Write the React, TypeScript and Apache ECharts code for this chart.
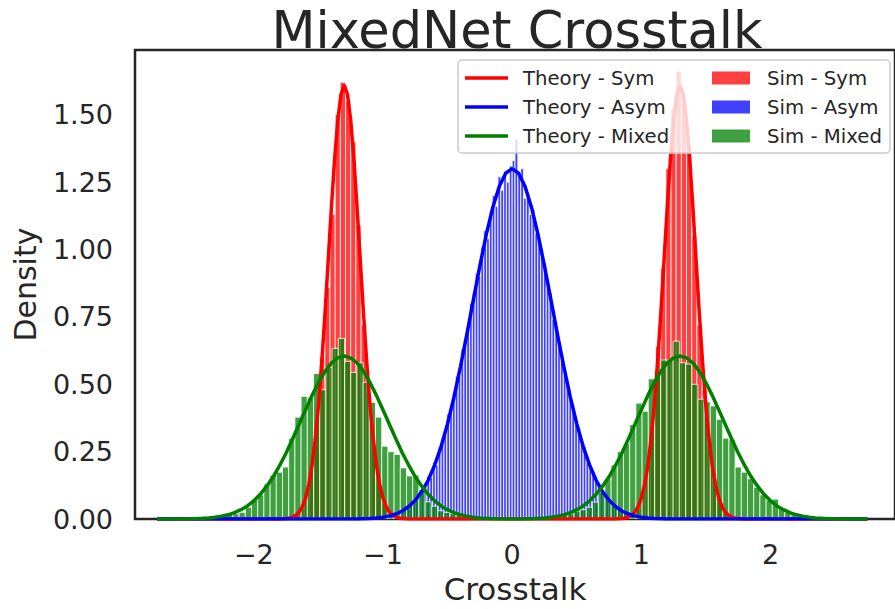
import React, { useEffect, useRef } from "react";
import * as echarts from "echarts";

// ---------- text ----------
const TITLE = "MixedNet Crosstalk";
const X_LABEL = "Crosstalk";
const Y_LABEL = "Density";
const THEORY_NAMES = ["Theory - Sym", "Theory - Asym", "Theory - Mixed"];
const SIM_NAMES = ["Sim - Sym", "Sim - Asym", "Sim - Mixed"];

// ---------- axes ----------
const X_MIN = -2.92;
const X_MAX = 2.964;
const Y_MIN = 0;
const Y_MAX = 1.74;
const Y_INTERVAL = 0.25;

// ---------- histograms (density per bin) ----------
const SIM_SYM_START = -1.77;
const SIM_SYM_WIDTH = 0.04;
const SIM_SYM = [
  0.002, 0.006, 0.02, 0.04, 0.1, 0.2, 0.37, 0.6, 0.86, 1.13,
  1.5, 1.62, 1.55, 1.4, 1.09, 0.72, 0.47, 0.29, 0.14, 0.06,
  0.025, 0.01, 0.004, 0.001,
  0, 0, 0, 0, 0, 0, 0, 0, 0, 0,
  0, 0, 0, 0, 0, 0, 0, 0, 0, 0,
  0, 0, 0, 0, 0, 0, 0, 0, 0, 0,
  0, 0, 0, 0, 0, 0, 0, 0, 0, 0,
  0,
  0.001, 0.006, 0.016, 0.04, 0.1, 0.2, 0.37, 0.64, 0.93, 1.3,
  1.52, 1.66, 1.55, 1.38, 1.05, 0.72, 0.48, 0.28, 0.14, 0.065,
  0.026, 0.01, 0.003, 0.001,
];

const SIM_ASYM_START = -1.1;
const SIM_ASYM_WIDTH = 0.022;
const SIM_ASYM = [
  0.003, 0.0, 0.005, 0.004, 0.009, 0.007, 0.013, 0.011, 0.02, 0.018,
  0.029, 0.027, 0.042, 0.04, 0.06, 0.07, 0.074, 0.1, 0.115, 0.12,
  0.16, 0.155, 0.21, 0.2, 0.27, 0.3, 0.31, 0.39, 0.42, 0.47,
  0.53, 0.53, 0.63, 0.67, 0.7, 0.8, 0.84, 0.91, 0.9, 1.01,
  1.07, 1.04, 1.14, 1.2, 1.16, 1.27, 1.22, 1.29, 1.25, 1.31,
  1.33, 1.41, 1.28, 1.3, 1.19, 1.21, 1.13, 1.15, 1.06, 1.03,
  0.97, 0.95, 0.86, 0.84, 0.74, 0.73, 0.64, 0.61, 0.54, 0.5,
  0.45, 0.42, 0.35, 0.34, 0.28, 0.27, 0.21, 0.2, 0.17, 0.14,
  0.12, 0.11, 0.085, 0.08, 0.06, 0.058, 0.043, 0.04, 0.028, 0.027,
  0.019, 0.018, 0.012, 0.012, 0.008, 0.007, 0.004, 0.005, 0.002, 0.003,
];

const SIM_MIXED_START = -2.69;
const SIM_MIXED_WIDTH = 0.048;
const SIM_MIXED = [
  0.004, 0.005, 0.003, 0.004, 0.006, 0.005, 0.008, 0.007, 0.01, 0.013,
  0.018, 0.02, 0.025, 0.044, 0.074, 0.09, 0.13, 0.163, 0.174, 0.193,
  0.3, 0.378, 0.455, 0.45, 0.54, 0.48, 0.563, 0.633, 0.67, 0.585,
  0.544, 0.58, 0.507, 0.433, 0.378, 0.27, 0.25, 0.24, 0.19, 0.16,
  0.163, 0.11, 0.064, 0.048, 0.031, 0.025, 0.02, 0.015, 0.01, 0.008,
  0.005, 0.004, 0.002, 0.002, 0.001, 0.001, 0.001, 0.001, 0.001, 0.002,
  0.003, 0.004, 0.007, 0.01, 0.015, 0.02, 0.03, 0.035, 0.044, 0.063,
  0.1, 0.15, 0.2, 0.25, 0.28, 0.35, 0.43, 0.4, 0.52, 0.55,
  0.59, 0.59, 0.66, 0.58, 0.575, 0.5, 0.445, 0.435, 0.42, 0.37,
  0.3, 0.296, 0.193, 0.174, 0.15, 0.118, 0.09, 0.07, 0.074, 0.04,
  0.025, 0.015, 0.01, 0.008, 0.006, 0.005, 0.006, 0.004, 0.003, 0.004,
  0.002, 0.003, 0.002,
];

// ---------- theory curves ----------
const THEORY_SYM_X = [
  -2.75, -1.8,
  -1.75, -1.725, -1.7, -1.675, -1.65, -1.625, -1.6, -1.575, -1.55, -1.525,
  -1.5, -1.475, -1.45, -1.425, -1.4, -1.375, -1.35, -1.325, -1.3, -1.275,
  -1.25, -1.225, -1.2, -1.175, -1.15, -1.125, -1.1, -1.075, -1.05, -1.025,
  -1.0, -0.975, -0.95, -0.925, -0.9, -0.875, -0.85,
  -0.8, 0.8,
  0.85, 0.875, 0.9, 0.925, 0.95, 0.975, 1.0, 1.025, 1.05, 1.075,
  1.1, 1.125, 1.15, 1.175, 1.2, 1.225, 1.25, 1.275, 1.3, 1.325,
  1.35, 1.375, 1.4, 1.425, 1.45, 1.475, 1.5, 1.525, 1.55, 1.575,
  1.6, 1.625, 1.65, 1.675, 1.7, 1.725, 1.75,
  1.8, 2.75,
];
const THEORY_SYM_Y = [
  0, 0,
  0.0018, 0.0037, 0.0075, 0.014, 0.026, 0.046, 0.078, 0.127, 0.197, 0.294,
  0.42, 0.576, 0.756, 0.952, 1.151, 1.333, 1.48, 1.576, 1.61, 1.576,
  1.48, 1.333, 1.151, 0.952, 0.756, 0.576, 0.42, 0.294, 0.197, 0.127,
  0.078, 0.046, 0.026, 0.014, 0.0075, 0.0037, 0.0018,
  0, 0,
  0.0018, 0.0037, 0.0075, 0.014, 0.026, 0.046, 0.078, 0.127, 0.197, 0.294,
  0.42, 0.576, 0.756, 0.952, 1.151, 1.333, 1.48, 1.576, 1.61, 1.576,
  1.48, 1.333, 1.151, 0.952, 0.756, 0.576, 0.42, 0.294, 0.197, 0.127,
  0.078, 0.046, 0.026, 0.014, 0.0075, 0.0037, 0.0018,
  0, 0,
];

const THEORY_ASYM_X = [
  -2.75, -1.4, -1.2,
  -1.1, -1.05, -1.0, -0.95, -0.9, -0.85, -0.8, -0.75, -0.7, -0.65,
  -0.6, -0.55, -0.5, -0.45, -0.4, -0.35, -0.3, -0.25, -0.2, -0.15,
  -0.1, -0.05, 0.0, 0.05, 0.1, 0.15, 0.2, 0.25, 0.3, 0.35,
  0.4, 0.45, 0.5, 0.55, 0.6, 0.65, 0.7, 0.75, 0.8, 0.85,
  0.9, 0.95, 1.0, 1.05, 1.1,
  1.2, 1.4, 2.75,
];
const THEORY_ASYM_Y = [
  0, 0, 0.0007,
  0.0024, 0.004, 0.007, 0.012, 0.019, 0.03, 0.047, 0.07, 0.102, 0.144,
  0.2, 0.269, 0.354, 0.453, 0.566, 0.687, 0.814, 0.939, 1.056, 1.156,
  1.234, 1.283, 1.3, 1.283, 1.234, 1.156, 1.056, 0.939, 0.814, 0.687,
  0.566, 0.453, 0.354, 0.269, 0.2, 0.144, 0.102, 0.07, 0.047, 0.03,
  0.019, 0.012, 0.007, 0.004, 0.0024,
  0.0007, 0, 0,
];

const THEORY_MIXED_X = [
  -2.75, -2.7, -2.65, -2.6, -2.55, -2.5, -2.45, -2.4, -2.35,
  -2.3, -2.25, -2.2, -2.15, -2.1, -2.05, -2.0, -1.95, -1.9, -1.85,
  -1.8, -1.75, -1.7, -1.65, -1.6, -1.55, -1.5, -1.45, -1.4, -1.35,
  -1.3, -1.25, -1.2, -1.15, -1.1, -1.05, -1.0, -0.95, -0.9, -0.85,
  -0.8, -0.75, -0.7, -0.65, -0.6, -0.55, -0.5, -0.45, -0.4, -0.35,
  -0.3, -0.25, -0.2, -0.15, -0.1, -0.05, 0.0, 0.05, 0.1, 0.15,
  0.2, 0.25, 0.3, 0.35, 0.4, 0.45, 0.5, 0.55, 0.6, 0.65,
  0.7, 0.75, 0.8, 0.85, 0.9, 0.95, 1.0, 1.05, 1.1, 1.15,
  1.2, 1.25, 1.3, 1.35, 1.4, 1.45, 1.5, 1.55, 1.6, 1.65,
  1.7, 1.75, 1.8, 1.85, 1.9, 1.95, 2.0, 2.05, 2.1, 2.15,
  2.2, 2.25, 2.3, 2.35, 2.4, 2.45, 2.5, 2.55, 2.6, 2.65,
  2.7, 2.75,
];
const THEORY_MIXED_Y = [
  0.0001, 0.0001, 0.0002, 0.0003, 0.0006, 0.001, 0.0017, 0.0028, 0.0045,
  0.007, 0.011, 0.016, 0.024, 0.035, 0.049, 0.068, 0.092, 0.122, 0.157,
  0.199, 0.245, 0.297, 0.351, 0.405, 0.458, 0.506, 0.547, 0.579, 0.598,
  0.605, 0.598, 0.579, 0.547, 0.506, 0.458, 0.405, 0.351, 0.297, 0.245,
  0.199, 0.157, 0.122, 0.092, 0.068, 0.049, 0.035, 0.024, 0.016, 0.011,
  0.007, 0.0045, 0.0028, 0.0017, 0.0011, 0.0008, 0.0007, 0.0008, 0.0011, 0.0017,
  0.0028, 0.0045, 0.007, 0.011, 0.016, 0.024, 0.035, 0.049, 0.068, 0.092,
  0.122, 0.157, 0.199, 0.245, 0.297, 0.351, 0.405, 0.458, 0.506, 0.547,
  0.579, 0.598, 0.605, 0.598, 0.579, 0.547, 0.506, 0.458, 0.405, 0.351,
  0.297, 0.245, 0.199, 0.157, 0.122, 0.092, 0.068, 0.049, 0.035, 0.024,
  0.016, 0.011, 0.007, 0.0045, 0.0028, 0.0017, 0.001, 0.0006, 0.0003, 0.0002,
  0.0001, 0.0001,
];

// ---------- style ----------
const FONT = "DejaVu Sans";
const TEXT = "#262626";
const LINE_COLORS = ["#ff0000", "#0000ff", "#008000"];
const BAR_COLORS = ["rgba(255,0,0,0.75)", "rgba(0,0,255,0.75)", "rgba(0,128,0,0.75)"];
const BAR_EDGE = [1.0, 1.15, 1.0];

function binsToData(start: number, width: number, values: number[]) {
  return values.map((v, i) => [start + i * width, start + (i + 1) * width, v]);
}

function histSeries(name: string, color: string, edge: number, data: number[][]) {
  return {
    type: "custom",
    name,
    data,
    dimensions: ["x0", "x1", "y"],
    encode: { x: [0, 1], y: 2 },
    itemStyle: { color },
    z: 2,
    clip: true,
    renderItem: (params: any, api: any) => {
      const x0 = api.value(0);
      const x1 = api.value(1);
      const y = api.value(2);
      if (!(y > 0)) return { type: "group", children: [] };
      const p0 = api.coord([x0, y]);
      const p1 = api.coord([x1, 0]);
      return {
        type: "rect",
        shape: { x: p0[0], y: p0[1], width: p1[0] - p0[0], height: p1[1] - p0[1] },
        style: { fill: color, stroke: "rgba(255,255,255,0.75)", lineWidth: edge },
      };
    },
  };
}

function lineSeries(name: string, color: string, xs: number[], ys: number[]) {
  return {
    type: "line",
    name,
    data: xs.map((x, i) => [x, ys[i]]),
    symbol: "none",
    showSymbol: false,
    smooth: false,
    lineStyle: { color, width: 3.5 },
    itemStyle: { color },
    z: 5,
    clip: true,
  };
}

function fmtX(v: number) {
  if (Math.abs(v - Math.round(v)) > 1e-9) return "";
  const r = Math.round(v);
  return r < 0 ? "\u2212" + Math.abs(r) : String(r);
}

export default function App() {
  const ref = useRef<HTMLDivElement>(null);

  useEffect(() => {
    if (!ref.current) return;
    const chart = echarts.init(ref.current, null, { renderer: "svg" });

    const legendRows = [78, 107, 136];
    const legendGraphics: any[] = [
      {
        type: "rect",
        z: 100,
        shape: { x: 458, y: 60, width: 432, height: 93, r: 4 },
        style: { fill: "rgba(255,255,255,0.8)", stroke: "#cccccc", lineWidth: 1.5 },
      },
    ];
    THEORY_NAMES.forEach((n, i) => {
      const y = legendRows[i];
      legendGraphics.push({
        type: "line",
        z: 101,
        shape: { x1: 465, y1: y, x2: 508, y2: y },
        style: { stroke: LINE_COLORS[i], lineWidth: 3.5 },
      });
      legendGraphics.push({
        type: "text",
        z: 101,
        x: 523,
        y,
        style: { text: n, fontSize: 19.7, fontFamily: FONT, fill: TEXT, align: "left", verticalAlign: "middle" },
      });
    });
    SIM_NAMES.forEach((n, i) => {
      const y = legendRows[i];
      legendGraphics.push({
        type: "rect",
        z: 101,
        shape: { x: 712, y: y - 6.5, width: 38, height: 13 },
        style: { fill: BAR_COLORS[i] },
      });
      legendGraphics.push({
        type: "text",
        z: 101,
        x: 767,
        y,
        style: { text: n, fontSize: 19.7, fontFamily: FONT, fill: TEXT, align: "left", verticalAlign: "middle" },
      });
    });

    const option: any = {
      animation: false,
      backgroundColor: "#ffffff",
      textStyle: { fontFamily: FONT },
      grid: {
        left: 135,
        right: -3,
        top: 50,
        bottom: 89,
        show: true,
        borderColor: "#262626",
        borderWidth: 2.5,
        backgroundColor: "transparent",
      },
      xAxis: {
        type: "value",
        min: X_MIN,
        max: X_MAX,
        name: X_LABEL,
        nameLocation: "middle",
        nameGap: 46,
        nameTextStyle: { fontSize: 31, color: TEXT, fontFamily: FONT },
        axisLine: { show: false },
        axisTick: { show: false },
        splitLine: { show: false },
        axisLabel: {
          fontSize: 27,
          color: TEXT,
          fontFamily: FONT,
          margin: 22,
          showMinLabel: false,
          showMaxLabel: false,
          formatter: fmtX,
        },
      },
      yAxis: {
        type: "value",
        min: Y_MIN,
        max: Y_MAX,
        interval: Y_INTERVAL,
        name: Y_LABEL,
        nameLocation: "middle",
        nameRotate: 90,
        nameGap: 95,
        nameTextStyle: { fontSize: 30, color: TEXT, fontFamily: FONT },
        axisLine: { show: false },
        axisTick: { show: false },
        splitLine: { show: false },
        axisLabel: {
          fontSize: 27,
          color: TEXT,
          fontFamily: FONT,
          margin: 22,
          showMaxLabel: false,
          formatter: (v: number) => (v > 1.5 + 1e-9 ? "" : v.toFixed(2)),
        },
      },
      series: [
        histSeries(SIM_NAMES[0], BAR_COLORS[0], BAR_EDGE[0], binsToData(SIM_SYM_START, SIM_SYM_WIDTH, SIM_SYM)),
        histSeries(SIM_NAMES[1], BAR_COLORS[1], BAR_EDGE[1], binsToData(SIM_ASYM_START, SIM_ASYM_WIDTH, SIM_ASYM)),
        histSeries(SIM_NAMES[2], BAR_COLORS[2], BAR_EDGE[2], binsToData(SIM_MIXED_START, SIM_MIXED_WIDTH, SIM_MIXED)),
        lineSeries(THEORY_NAMES[0], LINE_COLORS[0], THEORY_SYM_X, THEORY_SYM_Y),
        lineSeries(THEORY_NAMES[1], LINE_COLORS[1], THEORY_ASYM_X, THEORY_ASYM_Y),
        lineSeries(THEORY_NAMES[2], LINE_COLORS[2], THEORY_MIXED_X, THEORY_MIXED_Y),
      ],
      graphic: [
        {
          type: "text",
          z: 100,
          x: 517,
          y: 30,
          style: { text: TITLE, fontSize: 51, fontFamily: FONT, fill: TEXT, align: "center", verticalAlign: "middle" },
        },
        ...legendGraphics,
      ],
    };

    chart.setOption(option);
    return () => chart.dispose();
  }, []);

  return (
    <div
      ref={ref}
      style={{ position: "fixed", left: 0, top: 0, width: 895, height: 609, background: "#ffffff" }}
    />
  );
}
